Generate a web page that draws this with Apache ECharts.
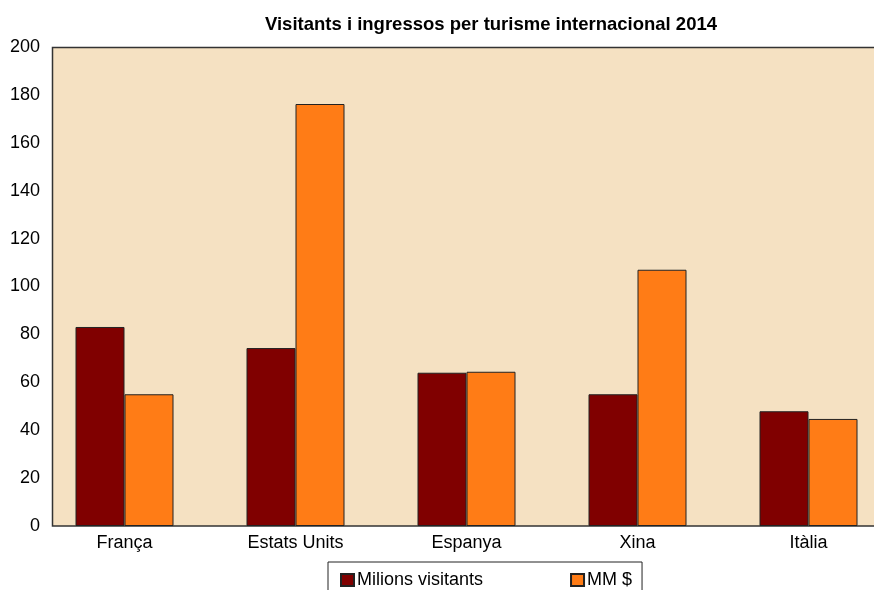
<!DOCTYPE html>
<html>
<head>
<meta charset="utf-8">
<script src="https://cdn.jsdelivr.net/npm/echarts@6/dist/echarts.min.js"></script>
<style>html,body{margin:0;padding:0;background:#fff}#c{width:874px;height:590px}</style>
</head>
<body>
<div id="c"></div>
<script>
var categories = ['França', 'Estats Units', 'Espanya', 'Xina', 'Itàlia'];
var visitants = [83.1, 74.3, 64.0, 55.0, 47.9];
var ingressos = [55.0, 176.2, 64.4, 107.0, 44.7];
var seriesNames = ['Milions visitants', 'MM $'];
var yTicks = { min: 0, max: 200, interval: 20 };

var chart = echarts.init(document.getElementById('c'), null, { renderer: 'canvas' });
var font = 'Liberation Sans, Arial, sans-serif';
chart.setOption({
  animation: false,
  backgroundColor: '#ffffff',
  title: {
    text: 'Visitants i ingressos per turisme internacional 2014',
    left: 486, top: 10, textAlign: 'center',
    textStyle: { fontFamily: font, fontSize: 18.5, fontWeight: 'bold', color: '#000' }
  },
  graphic: [{
    type: 'rect', z: -1, silent: true,
    shape: { x: 52.5, y: 47.5, width: 840, height: 478.5 },
    style: { fill: '#f5e1c2', stroke: '#333', lineWidth: 1.5 }
  }],
  legend: {
    left: 328, top: 562,
    padding: [9, 10, 30, 12],
    borderColor: '#222', borderWidth: 1,
    itemWidth: 13, itemHeight: 12, itemGap: 87,
    icon: 'rect',
    textStyle: { fontFamily: font, fontSize: 18, color: '#000', padding: [0, 0, 0, -2] },
    data: seriesNames
  },
  grid: { left: 39, top: 47, width: 855, height: 479, containLabel: false, outerBoundsMode: 'none' },
  xAxis: {
    type: 'category', data: categories,
    axisLine: { show: false }, axisTick: { show: false },
    axisLabel: { fontFamily: font, fontSize: 18, color: '#000', margin: 8 }
  },
  yAxis: {
    type: 'value', min: yTicks.min, max: yTicks.max, interval: yTicks.interval,
    offset: -13,
    axisLine: { show: false }, axisTick: { show: false }, splitLine: { show: false },
    axisLabel: { fontFamily: font, fontSize: 18, color: '#000', margin: 12 }
  },
  series: [
    { name: seriesNames[0], type: 'bar', data: visitants, barWidth: 49, barGap: '0%',
      itemStyle: { color: '#800000', borderColor: '#222', borderWidth: 1 } },
    { name: seriesNames[1], type: 'bar', data: ingressos, barWidth: 49, barGap: '0%',
      itemStyle: { color: '#ff7c16', borderColor: '#222', borderWidth: 1 } }
  ]
});
</script>
</body>
</html>
